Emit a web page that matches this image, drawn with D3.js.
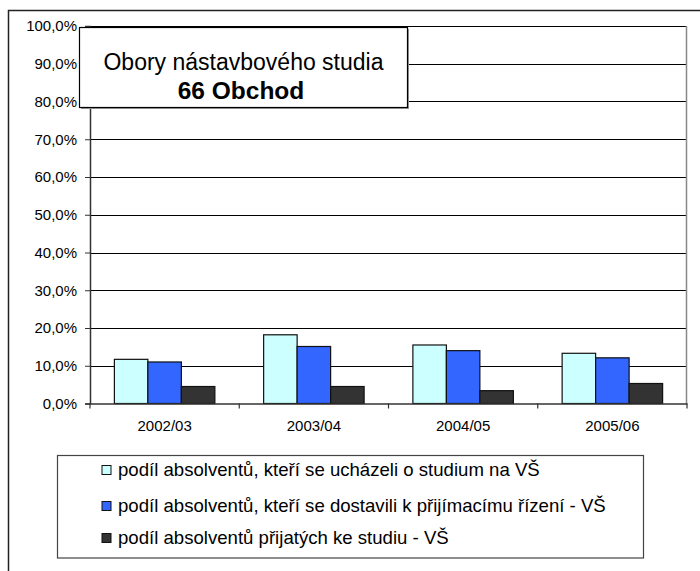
<!DOCTYPE html>
<html>
<head>
<meta charset="utf-8">
<script src="https://cdn.jsdelivr.net/npm/d3@7"></script>
<style>
  body { margin: 0; background: white; }
  text { font-family: "Liberation Sans", Arial, sans-serif; fill: black; }
</style>
</head>
<body>
<div id="chart"></div>
<script>
// values (percent)
const categories = ["2002/03", "2003/04", "2004/05", "2005/06"];
const seriesNames = [
  "podíl absolventů, kteří se ucházeli o studium na VŠ",
  "podíl absolventů, kteří se dostavili k přijímacímu řízení - VŠ",
  "podíl absolventů přijatých ke studiu - VŠ"
];
const applied  = [11.7, 18.2, 15.5, 13.3];
const attended = [11.0, 15.1, 14.0, 12.1];
const admitted = [4.5, 4.5, 3.4, 5.3];
const seriesColors = ["#CCFFFF", "#3366FF", "#333333"];
const yTicks = [0, 10, 20, 30, 40, 50, 60, 70, 80, 90, 100];

const seriesValues = [applied, attended, admitted];

let svg = d3.select("#chart").append("svg")
  .attr("width", 700)
  .attr("height", 571);

svg.append("rect")
  .attr("width", "100%")
  .attr("height", "100%")
  .attr("fill", "white");

// outer frame (only top and left are inside the picture)
svg.append("rect")
  .attr("x", 8.5).attr("y", 10.5)
  .attr("width", 800).attr("height", 800)
  .attr("fill", "none")
  .attr("stroke", "#222")
  .attr("stroke-width", 1.5);

let plot = { left: 90, right: 687, top: 26, bottom: 403.5 };

let x = d3.scaleBand()
  .domain(categories)
  .range([plot.left, plot.right]);

let xSub = d3.scaleBand()
  .domain(d3.range(seriesNames.length))
  .range([0, x.bandwidth()])
  .paddingOuter(0.728);

let y = d3.scaleLinear()
  .domain([0, 100])
  .range([plot.bottom, plot.top]);

let fmt = (d) => d3.format(".1f")(d).replace(".", ",") + "%";

// gridlines
svg.append("g")
  .selectAll("line")
  .data(yTicks.filter(d => d > 0))
  .enter().append("line")
    .attr("x1", plot.left)
    .attr("x2", plot.right - 1)
    .attr("y1", d => Math.round(y(d)) + 0.5)
    .attr("y2", d => Math.round(y(d)) + 0.5)
    .attr("stroke", "black")
    .attr("stroke-width", 1);

// right edge of plot area
svg.append("line")
  .attr("x1", plot.right - 0.5).attr("x2", plot.right - 0.5)
  .attr("y1", plot.top).attr("y2", plot.bottom)
  .attr("stroke", "#888")
  .attr("stroke-width", 1.5);

// bars
let groups = svg.append("g")
  .selectAll("g")
  .data(categories)
  .enter().append("g")
    .attr("transform", d => "translate(" + x(d) + ",0)");

groups.selectAll("rect")
  .data((d, i) => seriesValues.map((vals, s) => ({ s: s, v: vals[i] })))
  .enter().append("rect")
    .attr("x", d => xSub(d.s))
    .attr("y", d => y(d.v))
    .attr("width", xSub.bandwidth())
    .attr("height", d => y(0) - y(d.v))
    .attr("fill", d => seriesColors[d.s])
    .attr("stroke", "#111")
    .attr("stroke-width", 1.2);

// y axis
let yAxis = svg.append("g")
  .attr("transform", "translate(" + plot.left + ",0)")
  .call(d3.axisLeft(y).tickValues(yTicks).tickFormat(fmt).tickSize(5).tickPadding(8));
yAxis.select(".domain").attr("stroke", "#333").attr("stroke-width", 1.5);
yAxis.selectAll(".tick line").attr("stroke", "#333");
yAxis.selectAll(".tick text")
  .style("font-family", "'Liberation Sans', Arial, sans-serif")
  .style("font-size", "15px")
  .attr("fill", "black");

// x axis
let xAxis = svg.append("g")
  .attr("transform", "translate(0," + plot.bottom + ")")
  .call(d3.axisBottom(x).tickSize(0).tickPadding(17));
xAxis.select(".domain").attr("stroke", "#333").attr("stroke-width", 1.5);
xAxis.selectAll(".tick text")
  .style("font-family", "'Liberation Sans', Arial, sans-serif")
  .style("font-size", "15px")
  .attr("fill", "black");

// category separators on the x axis
xAxis.append("g")
  .selectAll("line")
  .data(categories.concat(["end"]))
  .enter().append("line")
    .attr("x1", (d, i) => i < categories.length ? x(d) : plot.right)
    .attr("x2", (d, i) => i < categories.length ? x(d) : plot.right)
    .attr("y1", 0).attr("y2", 5)
    .attr("stroke", "#333")
    .attr("stroke-width", 1.2);

// title box
svg.append("rect")
  .attr("x", 81).attr("y", 29)
  .attr("width", 328).attr("height", 80)
  .attr("fill", "#999");
svg.append("rect")
  .attr("x", 79.5).attr("y", 27.5)
  .attr("width", 328).attr("height", 80)
  .attr("fill", "white")
  .attr("stroke", "black")
  .attr("stroke-width", 1.2);
svg.append("text")
  .attr("x", 243.5).attr("y", 70)
  .attr("text-anchor", "middle")
  .style("font-size", "23px")
  .text("Obory nástavbového studia");
svg.append("text")
  .attr("x", 241).attr("y", 99)
  .attr("text-anchor", "middle")
  .style("font-size", "24.5px")
  .style("font-weight", "bold")
  .text("66 Obchod");

// legend
let legend = svg.append("g");
legend.append("rect")
  .attr("x", 57.5).attr("y", 455.5)
  .attr("width", 586).attr("height", 102.5)
  .attr("fill", "white")
  .attr("stroke", "#444")
  .attr("stroke-width", 1.2);

let legendRowsY = [470, 506, 538];
let items = legend.selectAll(".item")
  .data(seriesNames)
  .enter().append("g")
    .attr("class", "item")
    .attr("transform", (d, i) => "translate(102," + legendRowsY[i] + ")");
items.append("rect")
  .attr("x", 0).attr("y", -4.5)
  .attr("width", 9).attr("height", 9)
  .attr("fill", (d, i) => seriesColors[i])
  .attr("stroke", "#111")
  .attr("stroke-width", 1);
items.append("text")
  .attr("x", 16).attr("y", 5.5)
  .style("font-size", "18.6px")
  .text(d => d);
</script>
</body>
</html>
